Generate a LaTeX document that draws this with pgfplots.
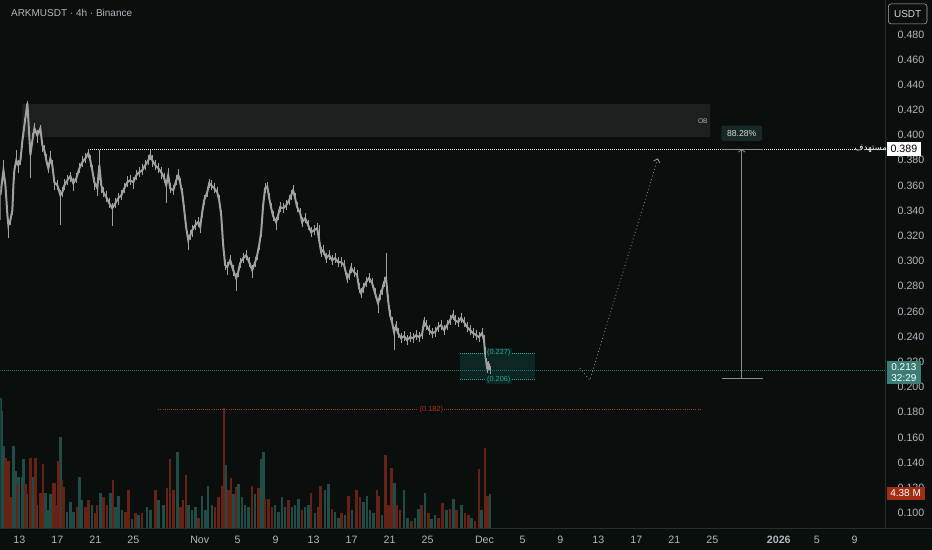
\documentclass[border=0pt]{standalone}
\usepackage{fontspec}
\setmainfont{Liberation Sans}
\newfontfamily\arabicfont[Script=Arabic]{DejaVu Sans}
\TeXXeTstate=1
\usepackage{pgfplots}
\usepackage{pgfplotstable}
\pgfplotsset{compat=1.18}
\usetikzlibrary{arrows.meta}

\definecolor{bg}{HTML}{0A0E0D}
\definecolor{txt}{HTML}{B2B5BE}
\definecolor{axl}{HTML}{22302E}
\definecolor{candle}{HTML}{A0A0A0}
\definecolor{obfill}{HTML}{1C1F1E}
\definecolor{tealv}{HTML}{204C47}
\definecolor{redv}{HTML}{662315}
\definecolor{tealtx}{HTML}{2BA39A}
\definecolor{redtx}{HTML}{B8301C}
\definecolor{tealbox}{HTML}{0C2624}
\definecolor{pricebox}{HTML}{3A7E75}
\definecolor{volbox}{HTML}{A12E14}
\definecolor{pctbox}{HTML}{172826}

% candles: day since 13 Oct, close, upper wick, lower wick
\pgfplotstableread{
d c up dn
-2.00 0.3523 0.004 0.020
-1.68 0.3721 0.008 0.004
-1.47 0.3602 0.004 0.006
-1.26 0.3364 0.004 0.004
-1.16 0.3285 0.004 0.010
-0.95 0.3324 0.003 0.004
-0.74 0.3404 0.004 0.004
-0.63 0.3602 0.004 0.005
-0.53 0.3721 0.004 0.004
-0.32 0.3800 0.008 0.004
-0.11 0.3761 0.004 0.006
0.11 0.3800 0.004 0.004
0.32 0.3959 0.004 0.006
0.53 0.4078 0.006 0.004
0.74 0.4197 0.004 0.004
0.84 0.4253 0.002 0.006
0.95 0.4118 0.004 0.006
1.16 0.3840 0.006 0.018
1.37 0.3959 0.006 0.004
1.58 0.4054 0.004 0.004
1.89 0.3999 0.004 0.006
2.21 0.4054 0.003 0.004
2.42 0.3919 0.004 0.005
2.63 0.3880 0.004 0.004
2.84 0.3800 0.005 0.004
3.05 0.3737 0.004 0.004
3.26 0.3816 0.006 0.004
3.47 0.3761 0.004 0.004
3.68 0.3626 0.004 0.006
4.00 0.3602 0.004 0.004
4.32 0.3523 0.004 0.024
4.53 0.3547 0.004 0.004
4.74 0.3602 0.005 0.004
5.05 0.3642 0.004 0.004
5.37 0.3674 0.003 0.005
5.68 0.3618 0.004 0.006
6.00 0.3658 0.004 0.004
6.32 0.3737 0.004 0.004
6.63 0.3785 0.005 0.004
6.95 0.3816 0.004 0.004
7.26 0.3856 0.003 0.004
7.47 0.3800 0.004 0.005
7.68 0.3721 0.004 0.004
7.89 0.3626 0.004 0.006
8.21 0.3578 0.004 0.006
8.42 0.3761 0.012 0.012
8.63 0.3602 0.004 0.006
8.84 0.3547 0.004 0.004
9.16 0.3507 0.005 0.004
9.47 0.3459 0.004 0.004
9.79 0.3420 0.004 0.014
10.11 0.3459 0.004 0.004
10.42 0.3499 0.004 0.005
10.74 0.3523 0.004 0.004
11.05 0.3578 0.004 0.004
11.37 0.3626 0.005 0.004
11.68 0.3642 0.004 0.004
12.00 0.3626 0.004 0.005
12.32 0.3682 0.004 0.004
12.63 0.3705 0.004 0.004
12.95 0.3721 0.005 0.004
13.26 0.3761 0.004 0.004
13.58 0.3800 0.004 0.004
13.79 0.3840 0.004 0.004
14.00 0.3800 0.004 0.005
14.32 0.3761 0.004 0.004
14.63 0.3737 0.004 0.004
14.95 0.3705 0.004 0.005
15.26 0.3658 0.004 0.004
15.47 0.3602 0.004 0.014
15.68 0.3682 0.006 0.004
15.89 0.3578 0.004 0.004
16.21 0.3562 0.004 0.004
16.53 0.3642 0.004 0.004
16.74 0.3682 0.005 0.004
16.95 0.3618 0.004 0.004
17.16 0.3539 0.004 0.004
17.37 0.3404 0.004 0.004
17.58 0.3261 0.004 0.004
17.79 0.3166 0.004 0.008
18.00 0.3206 0.004 0.004
18.21 0.3245 0.004 0.005
18.53 0.3285 0.004 0.004
18.84 0.3309 0.004 0.004
19.05 0.3269 0.004 0.005
19.26 0.3388 0.004 0.004
19.47 0.3483 0.004 0.004
19.79 0.3547 0.004 0.004
20.00 0.3618 0.003 0.004
20.21 0.3602 0.004 0.004
20.53 0.3578 0.004 0.004
20.84 0.3547 0.004 0.004
21.05 0.3483 0.004 0.004
21.26 0.3364 0.004 0.004
21.47 0.3126 0.004 0.004
21.68 0.2968 0.004 0.004
21.89 0.2952 0.004 0.006
22.21 0.3007 0.004 0.004
22.53 0.2928 0.004 0.005
22.84 0.2865 0.004 0.010
23.05 0.2912 0.004 0.004
23.26 0.2983 0.004 0.004
23.58 0.3023 0.004 0.004
23.89 0.3047 0.004 0.004
24.21 0.2991 0.004 0.004
24.53 0.2928 0.004 0.006
24.84 0.2991 0.004 0.004
25.05 0.3047 0.004 0.004
25.26 0.3126 0.004 0.004
25.47 0.3229 0.004 0.004
25.68 0.3444 0.004 0.004
25.89 0.3578 0.004 0.004
26.11 0.3594 0.003 0.004
26.32 0.3499 0.004 0.004
26.53 0.3420 0.004 0.004
26.74 0.3356 0.004 0.004
27.05 0.3309 0.004 0.006
27.26 0.3364 0.004 0.004
27.47 0.3428 0.004 0.004
27.79 0.3420 0.004 0.004
28.11 0.3444 0.004 0.004
28.42 0.3483 0.004 0.004
28.63 0.3523 0.004 0.004
28.84 0.3562 0.004 0.004
29.05 0.3499 0.004 0.004
29.26 0.3428 0.004 0.004
29.58 0.3380 0.004 0.004
29.79 0.3309 0.004 0.004
30.11 0.3340 0.004 0.004
30.42 0.3285 0.004 0.004
30.74 0.3229 0.004 0.004
31.05 0.3245 0.004 0.004
31.37 0.3261 0.004 0.004
31.58 0.3166 0.012 0.004
31.79 0.3071 0.004 0.004
32.00 0.3087 0.004 0.004
32.32 0.3023 0.004 0.004
32.63 0.3047 0.004 0.004
32.95 0.3007 0.004 0.004
33.26 0.3023 0.004 0.004
33.58 0.2991 0.004 0.004
33.89 0.2991 0.004 0.004
34.21 0.2968 0.004 0.004
34.53 0.2865 0.004 0.004
34.74 0.2888 0.004 0.004
34.95 0.2944 0.004 0.004
35.26 0.2912 0.004 0.004
35.58 0.2888 0.004 0.004
35.79 0.2785 0.004 0.004
36.00 0.2745 0.004 0.004
36.21 0.2785 0.004 0.004
36.53 0.2833 0.004 0.004
36.84 0.2865 0.004 0.004
37.16 0.2825 0.004 0.004
37.47 0.2745 0.004 0.004
37.79 0.2666 0.004 0.008
38.00 0.2730 0.004 0.004
38.21 0.2769 0.004 0.004
38.42 0.2833 0.004 0.004
38.63 0.2865 0.020 0.004
38.84 0.2690 0.004 0.004
39.05 0.2571 0.004 0.004
39.26 0.2515 0.004 0.004
39.47 0.2436 0.004 0.014
39.68 0.2484 0.004 0.004
39.89 0.2428 0.004 0.004
40.21 0.2388 0.004 0.004
40.53 0.2404 0.004 0.004
40.84 0.2372 0.004 0.004
41.16 0.2396 0.004 0.004
41.47 0.2388 0.004 0.004
41.79 0.2412 0.004 0.004
42.11 0.2396 0.004 0.004
42.42 0.2420 0.004 0.004
42.63 0.2515 0.004 0.004
42.84 0.2491 0.004 0.004
43.16 0.2452 0.004 0.004
43.47 0.2428 0.004 0.004
43.79 0.2436 0.004 0.004
44.11 0.2476 0.004 0.004
44.42 0.2491 0.004 0.004
44.74 0.2452 0.004 0.004
45.05 0.2491 0.004 0.004
45.37 0.2531 0.004 0.004
45.68 0.2571 0.004 0.004
45.89 0.2531 0.004 0.004
46.21 0.2515 0.004 0.004
46.53 0.2547 0.004 0.004
46.84 0.2515 0.004 0.004
47.16 0.2476 0.004 0.004
47.47 0.2452 0.004 0.004
47.79 0.2428 0.004 0.004
48.11 0.2412 0.004 0.004
48.42 0.2396 0.004 0.004
48.74 0.2428 0.004 0.004
48.95 0.2372 0.004 0.004
49.05 0.2277 0.004 0.004
49.26 0.2158 0.004 0.005
49.47 0.2174 0.003 0.004
49.58 0.2134 0.003 0.003
}\candles

% volume (M), rising candles
\pgfplotstableread{
d v
-2.00 8.9
-1.86 8.0
-1.65 5.6
-1.30 3.9
-0.60 5.6
-0.42 3.9
-0.07 3.5
0.28 3.5
0.46 4.7
0.81 2.3
1.33 2.6
1.51 3.5
1.86 1.6
2.74 2.4
3.09 1.2
3.26 2.3
4.35 6.2
5.02 1.1
5.37 1.8
5.72 1.1
6.35 3.5
6.60 1.9
7.65 1.6
8.53 2.4
9.58 2.4
10.11 1.4
10.46 2.2
10.81 1.2
11.86 0.6
12.56 0.9
13.44 1.4
13.79 1.2
14.67 1.9
15.19 1.6
16.67 5.2
17.82 1.6
18.18 1.2
18.53 1.4
19.23 2.2
19.58 1.2
19.89 2.9
20.28 1.6
21.79 4.3
22.56 2.3
23.09 3.0
23.44 2.1
23.79 1.6
24.14 1.4
24.84 2.3
25.44 4.7
25.72 5.2
26.95 1.6
27.30 1.1
27.65 2.1
28.00 1.4
28.70 1.4
29.05 1.6
29.40 2.0
30.11 1.4
30.46 1.6
31.16 1.0
32.21 2.6
32.56 3.0
33.26 1.1
33.61 0.7
34.32 0.9
35.02 1.2
36.25 1.8
36.60 2.2
36.95 1.2
37.30 1.0
38.18 0.9
39.51 3.1
40.53 2.6
40.88 0.7
41.68 0.7
42.04 1.3
42.74 2.4
43.44 0.6
43.79 0.9
45.02 1.2
45.72 2.0
46.60 1.6
47.65 0.7
48.70 1.2
49.58 2.3
}\volup

% volume (M), falling candles
\pgfplotstableread{
d v
-1.47 4.8
-1.12 4.6
-0.95 2.1
-0.25 3.0
0.63 3.0
1.16 4.8
1.68 4.8
2.21 2.4
2.49 4.4
3.54 3.1
3.72 3.1
3.96 1.6
4.14 4.6
4.49 3.3
4.67 2.8
6.07 1.4
6.95 1.4
7.30 1.9
8.00 1.0
8.18 1.6
8.88 2.1
9.23 1.6
9.86 3.3
11.16 1.1
11.51 2.6
12.21 1.0
12.91 1.0
14.32 2.6
15.54 2.7
15.89 4.7
16.25 2.6
16.95 1.4
17.23 1.9
17.54 3.6
18.88 0.7
20.63 1.4
20.98 2.1
21.33 2.9
21.58 8.2
22.04 2.6
22.28 3.4
22.84 2.8
24.49 2.9
25.19 2.7
25.89 2.0
26.25 2.0
26.60 1.4
28.35 1.9
29.75 1.2
30.74 2.4
31.51 1.4
31.75 2.9
32.91 1.3
33.96 1.0
34.67 2.2
35.54 2.6
35.89 2.1
37.65 2.6
37.89 2.2
38.56 5.0
38.88 1.6
39.23 4.1
39.75 1.6
40.11 1.2
41.33 0.5
42.39 1.6
43.09 1.0
44.14 0.7
44.60 1.7
45.37 1.3
46.07 1.2
46.95 1.0
47.30 0.9
48.00 0.5
48.42 4.0
49.05 5.5
49.30 2.2
}\voldown

\begin{document}
\begin{tikzpicture}
\fill[bg] (0,0) rectangle (699pt,412.5pt);
\draw[axl, line width=0.6pt] (664.5pt,16.5pt) -- (699pt,16.5pt);

% volume pane
\begin{axis}[
  at={(0pt,16.5pt)}, anchor=south west,
  width=664.5pt, height=396pt, scale only axis,
  xmin=-2, xmax=91.26, ymin=0, ymax=36.1,
  axis lines=none,
]
\addplot[ycomb, tealv, line width=1.9pt, no markers] table[x=d, y=v] {\volup};
\addplot[ycomb, redv, line width=1.9pt, no markers] table[x=d, y=v] {\voldown};
\end{axis}

% price pane
\begin{axis}[
  at={(0pt,16.5pt)}, anchor=south west,
  width=664.5pt, height=396pt, scale only axis,
  xmin=-2, xmax=91.26, ymin=0.0881, ymax=0.50698,
  axis x line*=bottom, axis y line*=right,
  axis line style={-, draw=axl, line width=0.6pt},
  major tick length=0pt,
  clip mode=individual,
  xtick={0,4,8,12,19,23,27,31,35,39,43,49,53,57,61,65,69,73,80,84,88},
  xticklabels={13,17,21,25,Nov,5,9,13,17,21,25,Dec,5,9,13,17,21,25,\textbf{2026},5,9},
  ytick={0.10,0.12,0.14,0.16,0.18,0.20,0.22,0.24,0.26,0.28,0.30,0.32,0.34,0.36,0.38,0.40,0.42,0.44,0.46,0.48},
  /pgf/number format/assume math mode=true,
  yticklabel style={/pgf/number format/fixed, /pgf/number format/fixed zerofill,
    /pgf/number format/precision=3, anchor=west, xshift=5.5pt},
  xticklabel style={yshift=-2.5pt},
  ticklabel style={font=\fontsize{8}{9.6}\selectfont, text=txt},
]
% order block
\addplot[fill=obfill, draw=none] coordinates {(0.32,0.3983) (72.74,0.3983) (72.74,0.4245) (0.32,0.4245)} -- cycle;
% buy zone
\addplot[fill=tealbox, draw=none] coordinates {(46.42,0.206) (54.32,0.206) (54.32,0.227) (46.42,0.227)} -- cycle;
\addplot[tealtx, densely dotted, line width=0.5pt] coordinates {(46.42,0.227) (54.32,0.227)};
\addplot[tealtx, densely dotted, line width=0.5pt] coordinates {(46.42,0.206) (54.32,0.206)};
% target and current price lines
\addplot[white, densely dotted, line width=0.5pt] coordinates {(7.26,0.389) (88.1,0.389)};
\addplot[tealtx!70!black, densely dotted, line width=0.5pt] coordinates {(-2,0.213) (91.26,0.213)};
\addplot[redtx, densely dotted, line width=0.6pt] coordinates {(14.63,0.182) (71.68,0.182)};
% candles
\addplot[candle, line width=1.5pt, no markers,
  error bars/.cd, y dir=both, y explicit, error mark=none,
  error bar style={line width=0.7pt, candle}]
  table[x=d, y=c, y error plus=up, y error minus=dn] {\candles};
% projected path
\addplot[gray!80, dotted, line width=0.6pt, -{Straight Barb[length=2.5pt,width=5pt]}]
  coordinates {(59.05,0.2150) (60.1,0.2055) (67.26,0.3816)};
% measure
\addplot[gray!90, line width=0.6pt] coordinates {(74.0,0.389) (78.3,0.389)};
\addplot[gray!90, line width=0.6pt] coordinates {(74.0,0.2066) (78.3,0.2066)};
\addplot[gray!90, line width=0.6pt, -{Straight Barb[length=2pt,width=5pt]}] coordinates {(76.1,0.2066) (76.1,0.389)};

% texts
\node[anchor=west, text=txt, font=\fontsize{7.5}{9}\selectfont] at (axis cs:-1.37,0.4967) {ARKMUSDT · 4h · Binance};
\node[text=txt, font=\fontsize{5}{6}\selectfont] at (axis cs:72.0,0.4110) {OB};
\node[fill=pctbox, rounded corners=1.5pt, text=white!85!black, minimum width=30.5pt, minimum height=11.5pt, inner sep=1pt, font=\fontsize{6.5}{7}\selectfont] at (axis cs:76.1,0.4015) {88.28\%};
\node[fill=bg, text=redtx, inner sep=1pt, font=\fontsize{5.5}{6}\selectfont] at (axis cs:43.4,0.182) {(0.182)};
\node[fill=tealbox, text=tealtx, inner sep=1pt, font=\fontsize{5.5}{6}\selectfont] at (axis cs:50.5,0.227) {(0.227)};
\node[fill=tealbox, text=tealtx, inner sep=1pt, font=\fontsize{5.5}{6}\selectfont] at (axis cs:50.5,0.206) {(0.206)};
\node[text=white, inner sep=0.5pt, font=\fontsize{6.5}{7}\selectfont] at (axis cs:89.7,0.389) {\arabicfont\beginR مستهدف\endR};
% right scale labels
\node[draw=gray!60, rounded corners=2pt, text=white!85!black, minimum width=29pt, minimum height=15pt, inner sep=1pt, font=\fontsize{7.5}{8}\selectfont] at (axis cs:93.58,0.4963) {USDT};
\node[fill=white, text=black, anchor=west, minimum width=26pt, minimum height=10.5pt, inner sep=1pt, xshift=0.5pt, font=\fontsize{8}{8}\selectfont] at (axis cs:91.26,0.389) {0.389};
\node[fill=pricebox, text=white, anchor=west, align=center, minimum width=26pt, inner sep=1.5pt, xshift=0.5pt, font=\fontsize{7.5}{8.5}\selectfont] at (axis cs:91.26,0.2115) {0.213\\32:29};
\node[fill=volbox, text=white, anchor=west, minimum width=28.5pt, minimum height=10pt, inner sep=1pt, xshift=0.5pt, font=\fontsize{7.5}{8}\selectfont] at (axis cs:91.26,0.1155) {4.38 M};
\end{axis}
\end{tikzpicture}
\end{document}
